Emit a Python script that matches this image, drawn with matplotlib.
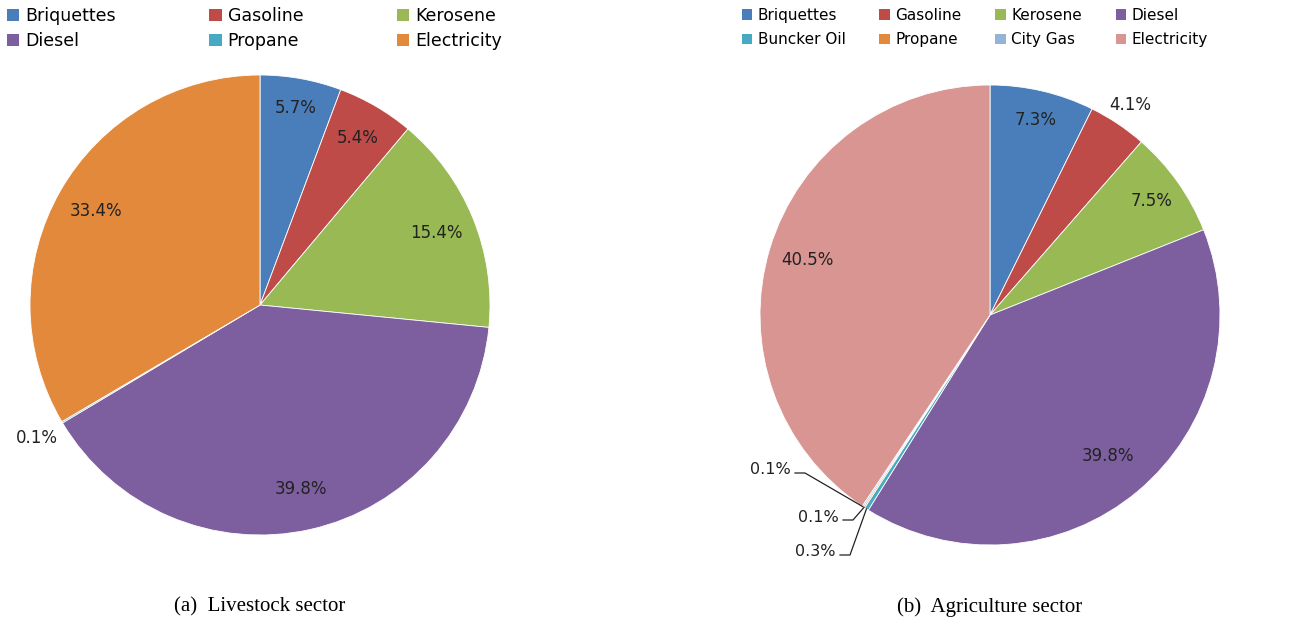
import matplotlib.pyplot as plt
from matplotlib.patches import Patch
import numpy as np

# ---- data ----
live_labels = ["Briquettes", "Gasoline", "Kerosene", "Diesel", "Propane", "Electricity"]
live_values = [5.7, 5.4, 15.4, 39.8, 0.1, 33.4]
agri_labels = ["Briquettes", "Gasoline", "Kerosene", "Diesel", "Buncker Oil", "Propane", "City Gas", "Electricity"]
agri_values = [7.3, 4.1, 7.5, 39.8, 0.3, 0.1, 0.1, 40.5]
captions = ["(a)  Livestock sector", "(b)  Agriculture sector"]

# ---- styles ----
live_colors = ["#4A7EBB", "#BE4B48", "#98B954", "#7D5F9F", "#46AAC5", "#E2893C"]
agri_colors = ["#4A7EBB", "#BE4B48", "#98B954", "#7D5F9F", "#46AAC5", "#E2893C", "#95B3D7", "#D99592"]

W, H = 1301, 634
fig = plt.figure(figsize=(W / 100, H / 100), dpi=100)
ax = fig.add_axes([0, 0, 1, 1])

def Y(y):
    return H - y

FONT = "DejaVu Sans"
FS = 12
R = 230

def draw_pie(values, colors, cx, cy, dists):
    wedges, _ = ax.pie(values, colors=colors, startangle=90, counterclock=False,
                       center=(cx, Y(cy)), radius=R, frame=True,
                       wedgeprops=dict(edgecolor='white', linewidth=0.6))
    tot = sum(values)
    cum = 0
    mids = []
    for v in values:
        mid = 90 - (cum + v / 2) / tot * 360
        mids.append(mid)
        cum += v
    for v, m, d in zip(values, mids, dists):
        if d is None:
            continue
        x = cx + d * R * np.cos(np.radians(m))
        y = Y(cy) + d * R * np.sin(np.radians(m))
        ax.text(x, y, f"{v:.1f}%", ha='center', va='center', fontsize=FS,
                family=FONT, color='#222222')
    return wedges, mids

# left pie
lw, lm = draw_pie(live_values, live_colors, 260, 305, [0.87, 0.84, 0.83, 0.82, 1.13, 0.82])
# right pie
rw, rm = draw_pie(agri_values, agri_colors, 990, 315, [0.87, 1.10, 0.86, 0.80, None, None, None, 0.83])

ax.set_xlim(0, W)
ax.set_ylim(0, H)
ax.set_aspect('equal')
ax.axis('off')

# leader-lined small labels on the right pie
cx, cy = 990, Y(315)
small = [(6, 770, 470), (5, 818, 517), (4, 815, 552)]
for idx, tx, ty in small:
    m = rm[idx]
    ex = cx + R * np.cos(np.radians(m))
    ey = cy + R * np.sin(np.radians(m))
    ax.text(tx, Y(ty), f"{agri_values[idx]:.1f}%", ha='center', va='center',
            fontsize=11.5, family=FONT, color='#222222')
    x0 = tx + 25
    ax.plot([x0, x0 + 10, ex], [Y(ty) - 3, Y(ty) - 3, ey], color='#222222', lw=0.9)

# legends
def legend(labels, colors, anchor_x, anchor_y, ncol, colsp, size, lsp):
    handles = [Patch(facecolor=c, edgecolor='none') for c in colors]
    nrow = int(np.ceil(len(labels) / ncol))
    order = []
    for c in range(ncol):
        for r in range(nrow):
            i = r * ncol + c
            if i < len(labels):
                order.append(i)
    leg = fig.legend([handles[i] for i in order], [labels[i] for i in order],
                     loc='upper left', bbox_to_anchor=(anchor_x / W, 1 - anchor_y / H),
                     ncol=ncol, frameon=False, prop=dict(family=FONT, size=size),
                     handlelength=0.7, handleheight=0.7, handletextpad=0.35,
                     columnspacing=colsp, labelspacing=lsp, borderpad=0.05,
                     borderaxespad=0)
    return leg

legend(live_labels, live_colors, 6, 6, 3, 5.4, 12.5, 0.42)
legend(agri_labels, agri_colors, 741, 7, 4, 2.2, 11, 0.62)

# captions
for txt, x in zip(captions, [260, 990]):
    ax.text(x, Y(607), txt, ha='center', va='center', fontsize=15,
            family='Liberation Serif', color='black')

fig.savefig("out.png", dpi=100)
